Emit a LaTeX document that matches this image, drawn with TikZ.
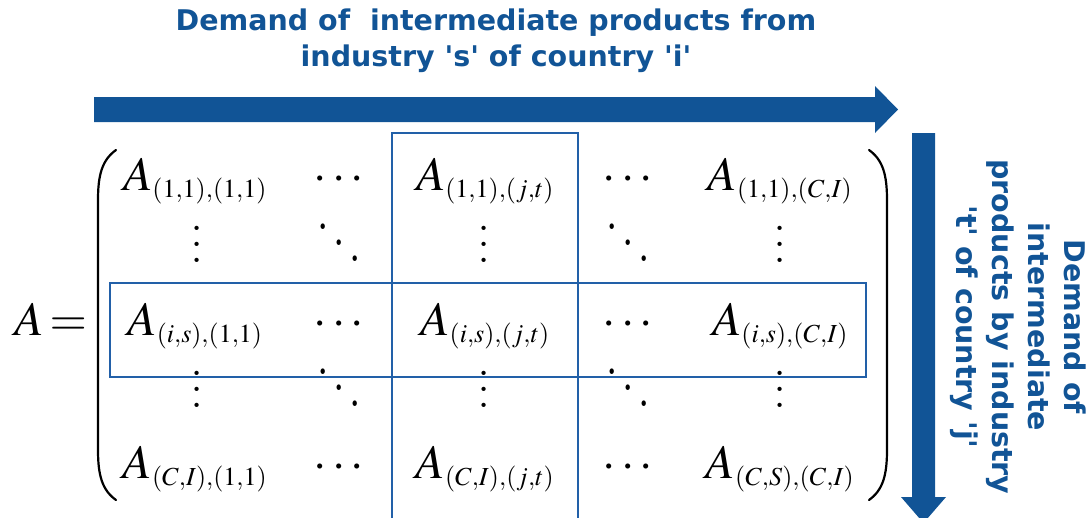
\documentclass[tikz,border=0pt]{standalone}
\usepackage{mathptmx}
\usepackage{graphicx}
\usepackage[no-math]{fontspec}
\newfontfamily\headfont{DejaVu Sans}
\DeclareMathSizes{48}{48}{26}{20}
\usetikzlibrary{positioning}
\definecolor{ioBlue}{RGB}{17,84,150}
\definecolor{boxBlue}{RGB}{34,96,168}
\newcommand{\colvdots}{\scalebox{4}{\fontsize{10}{12}\selectfont$\vdots$}}
\newcommand{\diagdots}{\scalebox{4.1}[5.3]{\fontsize{10}{12}\selectfont$\ddots$}}

\begin{document}
\begin{tikzpicture}[x=1pt,y=-1pt,
    heading/.style={font=\headfont\bfseries\fontsize{28.5}{36}\selectfont,text=ioBlue,align=center,inner sep=0pt},
    entry/.style={font=\fontsize{48}{48}\selectfont,inner sep=0pt,anchor=base},
    hilite/.style={draw=boxBlue,line width=1.5pt},
    paren/.style={line width=2.2pt,line cap=round}]
  \clip (0,0) rectangle (1090,517);
  % Headings
  \node[heading] (title) at (496,41) {Demand of~ intermediate products from\\industry \textquotesingle s\textquotesingle\ of country \textquotesingle i\textquotesingle};
  \node[heading,rotate=-90] (side) at (1018,327) {Demand of\\intermediate\\products by industry\\\textquotesingle t\textquotesingle\ of country \textquotesingle j\textquotesingle};
  % Arrows
  \fill[ioBlue] (94,97) -- (875,97) -- (875,86) -- (898,109.5) -- (875,133) -- (875,122) -- (94,122) -- cycle;
  \fill[ioBlue] (912,133) -- (935,133) -- (935,497) -- (946,497) -- (923.5,523) -- (901,497) -- (912,497) -- cycle;
  % Highlighted column and row
  \draw[hilite] (392,133) rectangle (578,530);
  \draw[hilite] (110,283) rectangle (866,377);
  % Left side
  \node[entry,anchor=base east] (lhs) at (87,335) {$A\,{=}$};
  % Row 1
  \node[entry] (a11) at (195,190) {$A_{(1,1),(1,1)}$};
  \node[entry] (a12) at (339,190) {$\cdots$};
  \node[entry] (a13) at (485,190) {$A_{(1,1),(j,t)}$};
  \node[entry] (a14) at (628,190) {$\cdots$};
  \node[entry] (a15) at (780,190) {$A_{(1,1),(C,I)}$};
  % Row 2
  \node[entry] (a21) at (197,262) {\colvdots};
  \node[entry] (a22) at (339,267) {\diagdots};
  \node[entry] (a23) at (484,262) {\colvdots};
  \node[entry] (a24) at (628,267) {\diagdots};
  \node[entry] (a25) at (780,262) {\colvdots};
  % Row 3
  \node[entry] (a31) at (195,335) {$A_{(i,s),(1,1)}$};
  \node[entry] (a32) at (339,335) {$\cdots$};
  \node[entry] (a33) at (485,335) {$A_{(i,s),(j,t)}$};
  \node[entry] (a34) at (628,335) {$\cdots$};
  \node[entry] (a35) at (780,335) {$A_{(i,s),(C,I)}$};
  % Row 4
  \node[entry] (a41) at (197,407) {\colvdots};
  \node[entry] (a42) at (339,412) {\diagdots};
  \node[entry] (a43) at (484,407) {\colvdots};
  \node[entry] (a44) at (628,412) {\diagdots};
  \node[entry] (a45) at (780,407) {\colvdots};
  % Row 5
  \node[entry] (a51) at (195,478) {$A_{(C,I),(1,1)}$};
  \node[entry] (a52) at (339,478) {$\cdots$};
  \node[entry] (a53) at (485,478) {$A_{(C,I),(j,t)}$};
  \node[entry] (a54) at (628,478) {$\cdots$};
  \node[entry] (a55) at (780,478) {$A_{(C,S),(C,I)}$};
  % Parentheses
  \draw[paren] (116,150) .. controls (102,160) and (98,175) .. (98,200) -- (98,450) .. controls (98,475) and (102,490) .. (116,500);
  \draw[paren] (869,150) .. controls (883,160) and (887,175) .. (887,200) -- (887,450) .. controls (887,475) and (883,490) .. (869,500);
\end{tikzpicture}
\end{document}
